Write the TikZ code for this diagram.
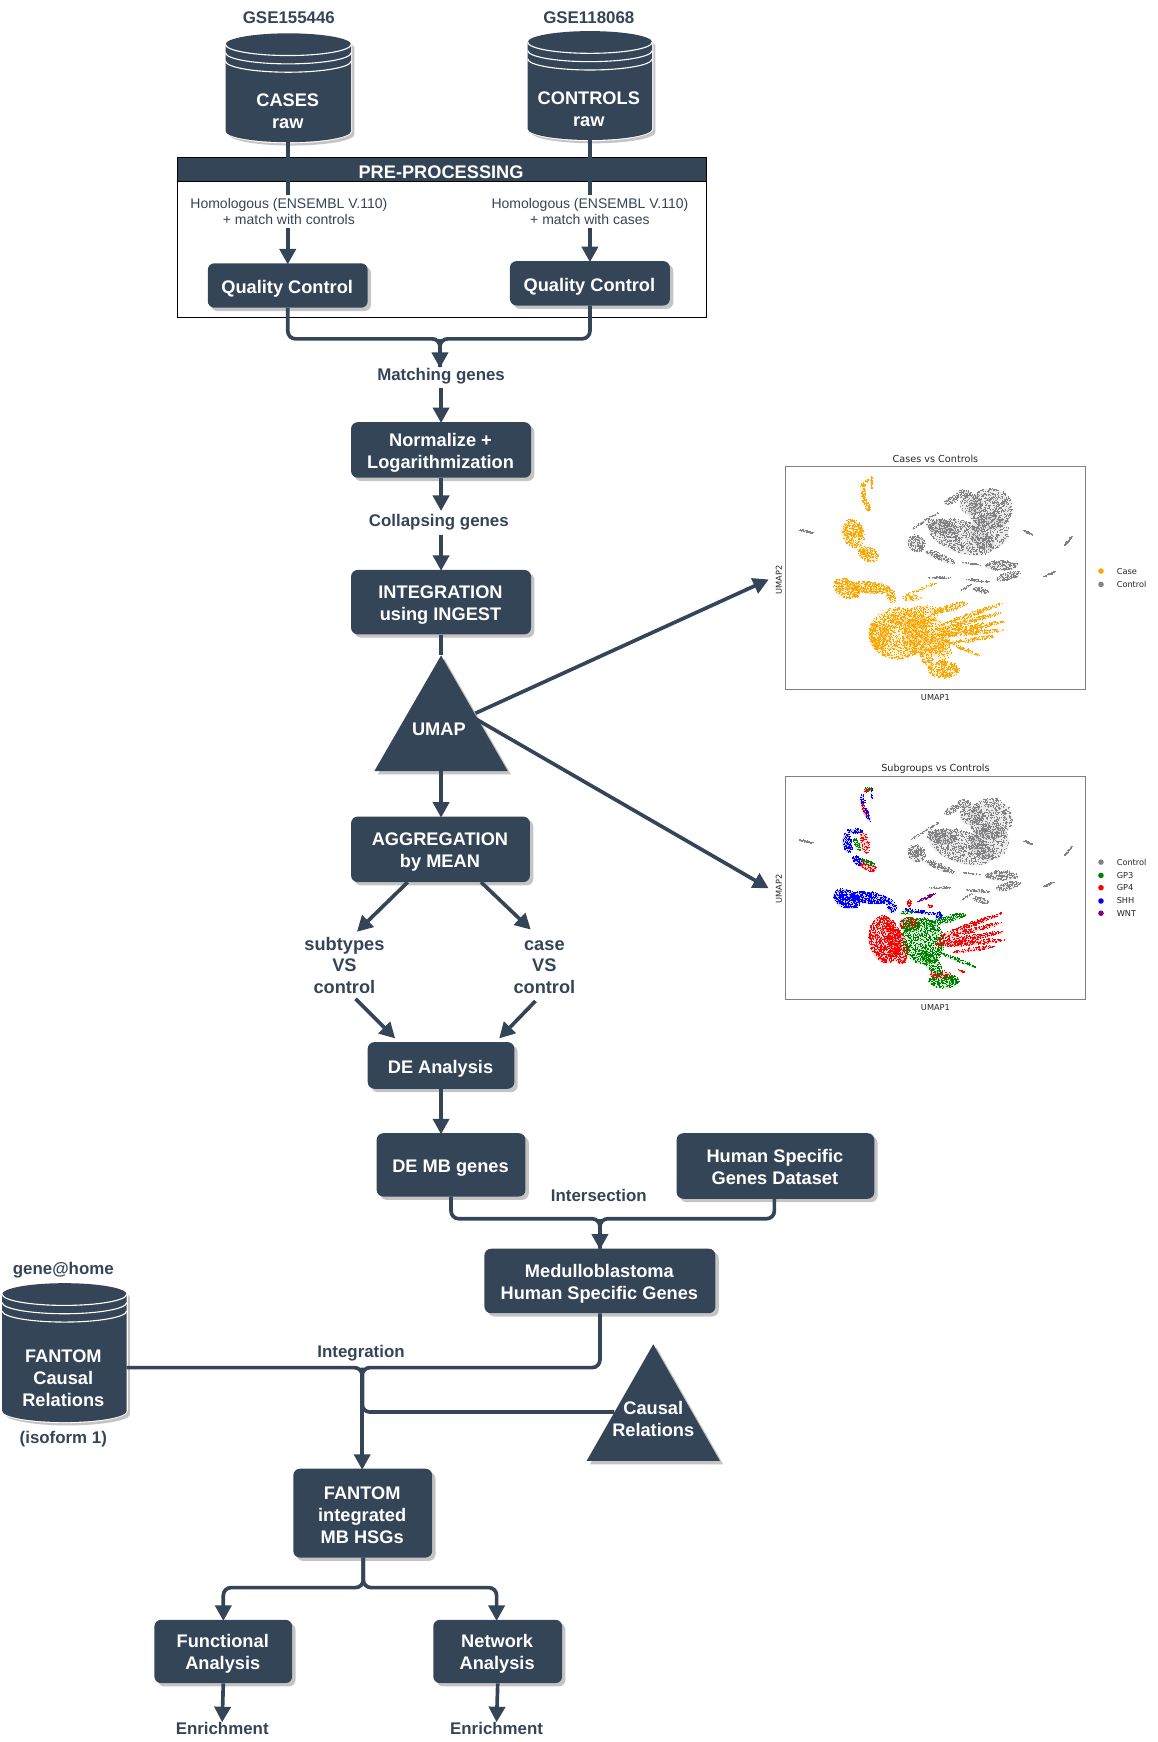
\documentclass[tikz,border=0pt]{standalone}
\usepackage{fontspec}
\setmainfont{Liberation Sans}
\newfontfamily\plotfont{DejaVu Sans}
\usetikzlibrary{arrows.meta}
\definecolor{dk}{HTML}{354558}
\definecolor{shd}{HTML}{C4C4C4}
\definecolor{axisc}{HTML}{808080}
\definecolor{caseC}{HTML}{FFA500}
\definecolor{ctrlC}{HTML}{828284}
\definecolor{gpthree}{HTML}{008000}
\definecolor{gpfour}{HTML}{FF0000}
\definecolor{shhC}{HTML}{0000FF}
\definecolor{wntC}{HTML}{800080}
\tikzset{
  x=1pt,y=-1pt,
  dkbox/.style={rectangle,rounded corners=6pt,fill=dk,inner sep=0pt},
  whitelab/.style={text=white,font=\fontsize{16.4}{19.8}\selectfont\bfseries,align=center,inner sep=0pt},
  dklab/.style={text=dk,font=\fontsize{15.2}{19.3}\selectfont\bfseries,align=center,inner sep=1pt},
  biglab/.style={dklab,font=\fontsize{16.4}{19.3}\selectfont\bfseries},
  homolab/.style={text=dk,fill=white,font=\fontsize{12.6}{15}\selectfont,align=center,inner xsep=1pt,inner ysep=2.5pt},
  plain conn/.style={draw=dk,line width=3.3pt},
  conn/.style={plain conn,-{Triangle[length=14pt,width=14.5pt]},shorten >=-1pt},
  rconn/.style={conn,rounded corners=7pt},
  rplain/.style={plain conn,rounded corners=7pt},
  plotframe/.style={draw=axisc,line width=1pt,inner sep=0pt,minimum width=270pt,minimum height=201pt},
  plottxt/.style={text=black!85,font=\plotfont\fontsize{7.4}{9}\selectfont,inner sep=0pt},
  plottitle/.style={plottxt,font=\plotfont\fontsize{8.7}{10}\selectfont},
  legtxt/.style={plottxt,anchor=west},
  legdot/.style={circle,inner sep=0pt,minimum size=5pt}
}
% box: [text offset] name x1 y1 x2 y2 text
\newcommand{\dkn}[7][2.7]{%
  \fill[shd] (#3+3,#4+3) [rounded corners=6pt] rectangle (#5+3,#6+3);
  \pgfmathsetmacro{\mycx}{(#3+#5)/2}\pgfmathsetmacro{\mycy}{(#4+#6)/2}
  \pgfmathsetmacro{\myw}{#5-#3}\pgfmathsetmacro{\myh}{#6-#4}
  \node[dkbox,minimum width=\myw pt,minimum height=\myh pt] (#2) at (\mycx,\mycy) {};
  \node[whitelab] (#2-t) at (\mycx-.5,\mycy+#1) {#7};}
% cylinder: name x1 y1 x2 y2
\newcommand{\cyln}[5]{%
  \pgfmathsetmacro{\myrx}{(#4-#2)/2}\pgfmathsetmacro{\mycx}{(#2+#4)/2}
  \fill[shd] (#2+3,#3+13) arc[start angle=180,end angle=360,x radius=\myrx,y radius=10]
     -- (#4+3,#5-7) arc[start angle=0,end angle=180,x radius=\myrx,y radius=10] -- cycle;
  \fill[white] (#2-1,#3+10) arc[start angle=180,end angle=360,x radius=\myrx+1,y radius=11]
     -- (#4+1,#5-10) arc[start angle=0,end angle=180,x radius=\myrx+1,y radius=11] -- cycle;
  \fill[dk] (#2,#3+10) arc[start angle=180,end angle=360,x radius=\myrx,y radius=10]
     -- (#4,#5-10) arc[start angle=0,end angle=180,x radius=\myrx,y radius=10] -- cycle;
  \foreach \myd in {10,17.5,25}{
    \draw[white,line width=1pt] (#2,#3+\myd) arc[start angle=180,end angle=0,x radius=\myrx,y radius=10];}
  \coordinate (#1-b) at (\mycx,#5);
  \coordinate (#1-r) at (#4,#3/2+#5/2);}
% random scatter, all arguments in zoomed plot pixels
\newcommand{\blob}[7]{%
  \begingroup
  \fill[#1,opacity=.16,shift={({.3*(#2-48)},{.3*(#3-80)})},rotate=-#6] (0,0) circle[x radius={.3*#4},y radius={.3*#5}];
  \color{#1}%
  \pgfmathsetmacro{\myca}{cos(#6)}\pgfmathsetmacro{\mysa}{sin(#6)}%
  \pgfmathtruncatemacro{\mynn}{#7*1.7}%
  \foreach \myi in {1,...,\mynn}{%
    \pgfmathsetmacro{\myr}{sqrt(rnd)}\pgfmathsetmacro{\myt}{360*rnd}%
    \pgfmathsetmacro{\myu}{#4*\myr*cos(\myt)}\pgfmathsetmacro{\myv}{#5*\myr*sin(\myt)}%
    \pgfmathsetmacro{\myX}{0.3*(#2-48+\myu*\myca-\myv*\mysa)}%
    \pgfmathsetmacro{\myY}{-0.3*(#3-80+\myu*\mysa+\myv*\myca)}%
    \pgfpathrectangle{\pgfpoint{\myX pt}{\myY pt}}{\pgfpoint{1pt}{1pt}}\pgfusepath{fill}}%
  \endgroup}
\newcommand{\ctrlblobs}{%
  \blob{ctrlC}{662}{208}{66}{62}{0}{340}
  \blob{ctrlC}{605}{195}{35}{32}{0}{70}
  \blob{ctrlC}{660}{275}{58}{55}{0}{170}
  \blob{ctrlC}{575}{292}{102}{48}{18}{430}
  \blob{ctrlC}{515}{262}{45}{22}{10}{90}
  \blob{ctrlC}{440}{312}{28}{24}{45}{100}
  \blob{ctrlC}{510}{352}{48}{10}{22}{70}
  \blob{ctrlC}{465}{245}{50}{4}{-32}{30}
  \blob{ctrlC}{545}{182}{25}{11}{-25}{35}
  \blob{ctrlC}{582}{163}{22}{13}{0}{35}
  \blob{ctrlC}{695}{378}{50}{15}{0}{100}
  \blob{ctrlC}{715}{410}{38}{12}{-15}{65}
  \blob{ctrlC}{605}{373}{32}{2}{8}{15}
  \blob{ctrlC}{512}{415}{36}{3}{0}{30}
  \blob{ctrlC}{625}{424}{36}{4}{5}{30}
  \blob{ctrlC}{632}{452}{26}{8}{15}{40}
  \blob{ctrlC}{590}{443}{22}{3}{-30}{12}
  \blob{ctrlC}{108}{276}{22}{3}{13}{35}
  \blob{ctrlC}{775}{280}{16}{3}{25}{25}
  \blob{ctrlC}{895}{305}{18}{3}{-50}{30}
  \blob{ctrlC}{838}{405}{20}{2.5}{-25}{25}}
\begin{document}
\begin{tikzpicture}
\useasboundingbox (0,0) rectangle (1042,1568);
% pre-processing frame
\node[draw=black,line width=1pt,minimum width=476pt,minimum height=144pt,inner sep=0pt] (prebox) at (398,214) {};
\node[fill=dk,draw=black,line width=.6pt,minimum width=476pt,minimum height=21pt,inner sep=0pt] (prehead) at (398,152.5) {};
\node[whitelab] (preheadt) at (397,155) {PRE-PROCESSING};
% top labels and cylinders
\node[dklab] (gse1) at (260,16) {GSE155446};
\node[dklab] (gse2) at (530,16) {GSE118068};
\cyln{cases}{203}{30}{316}{128}
\cyln{ctrls}{475}{28}{587}{126}
\node[whitelab] (casest) at (259,100) {CASES\\raw};
\node[whitelab] (ctrlst) at (530,98) {CONTROLS\\raw};
\node[homolab] (homo1) at (260,190.5) {Homologous (ENSEMBL V.110)\\+ match with controls};
\node[homolab] (homo2) at (531,190.5) {Homologous (ENSEMBL V.110)\\+ match with cases};
\dkn{qc1}{187}{237}{331}{277}{Quality Control}
\dkn{qc2}{459}{235}{603}{275}{Quality Control}
\node[dklab] (matching) at (397,338.5) {Matching genes};
\dkn{norm}{316}{380}{478}{430}{Normalize +\\Logarithmization}
\node[dklab] (collapse) at (395,470) {Collapsing genes};
\dkn{integ}{316}{513}{478}{571}{INTEGRATION\\using INGEST}
% UMAP triangle
\fill[shd] (400,593) -- (460,697) -- (340,697) -- cycle;
\fill[dk] (397,590) -- (457,694) -- (337,694) -- cycle;
\coordinate (umapt) at (397,590);
\coordinate (umapb) at (397,694);
\coordinate (umapr1) at (428,642);
\coordinate (umapr2) at (428,647);
\node[whitelab] (umap) at (395,656.5) {UMAP};
\dkn{aggr}{316}{735}{477}{794}{AGGREGATION\\by MEAN}
\node[biglab] (subt) at (310,869) {subtypes\\VS\\control};
\node[biglab] (casev) at (490,870.5) {case\\VS\\control};
\dkn{dea}{331}{938}{463}{980}{DE Analysis}
\dkn{demb}{339}{1020}{473}{1077}{DE MB genes}
\dkn[0.5]{human}{609}{1020}{787}{1079}{Human Specific\\Genes Dataset}
\node[dklab] (inters) at (539,1076) {Intersection};
\dkn{medu}{436}{1124}{644}{1182}{Medulloblastoma\\Human Specific Genes}
\node[dklab] (genehome) at (57,1143) {gene@home};
\cyln{fantomc}{2}{1155}{114}{1280}
\node[whitelab] (fantomt) at (57,1240.5) {FANTOM\\Causal\\Relations};
\node[dklab] (isoform) at (57,1295) {(isoform 1)};
\node[dklab] (integr) at (325,1218) {Integration};
% Causal triangle
\fill[shd] (591,1213) -- (651,1318) -- (531,1318) -- cycle;
\fill[dk] (588,1210) -- (648,1315) -- (528,1315) -- cycle;
\coordinate (causl) at (553,1271);
\node[whitelab] (causal) at (588,1277) {Causal\\Relations};
\dkn[1.5]{fint}{264}{1322}{389}{1402}{FANTOM\\integrated\\MB HSGs}
\dkn[2]{func}{139}{1458}{263}{1515}{Functional\\Analysis}
\dkn[2]{netw}{390}{1458}{506}{1515}{Network\\Analysis}
\node[dklab] (enr1) at (200,1556) {Enrichment};
\node[dklab] (enr2) at (447,1556) {Enrichment};
% connectors
\draw[plain conn] (cases-b) -- (homo1.north -| cases-b);
\draw[plain conn] (ctrls-b) -- (homo2.north -| ctrls-b);
\coordinate (qc1in) at (259,237);
\coordinate (qc2in) at (531,235);
\draw[conn] (homo1.south -| qc1in) -- (qc1in);
\draw[conn] (homo2.south -| qc2in) -- (qc2in);
\coordinate (mj) at (396,305);
\draw[rplain] (qc1.south) |- (mj) -- (matching.north -| mj);
\draw[rplain] (qc2.south) |- (mj) -- (matching.north -| mj);
\draw[conn] (mj) -- (matching.north -| mj);
\coordinate (nin) at (397,349);
\draw[conn] (nin) -- (norm.north);
\coordinate (colin) at (397,459);
\coordinate (colout) at (397,482);
\draw[conn] (norm.south) -- (colin);
\draw[conn] (colout) -- (integ.north);
\draw[plain conn] (integ.south) -- (umapt);
\coordinate (p1in) at (691,522);
\coordinate (p2in) at (691,799);
\draw[conn] (umapr1) -- (p1in);
\draw[conn] (umapr2) -- (p2in);
\coordinate (agin) at (397,735);
\draw[conn] (umapb) -- (agin);
\coordinate (a1) at (367,794); \coordinate (a2) at (433,794);
\coordinate (s1) at (322,838); \coordinate (s2) at (477,836);
\coordinate (s3) at (320,899); \coordinate (s4) at (482,901);
\coordinate (d1) at (355,934); \coordinate (d2) at (450,934);
\draw[conn] (a1) -- (s1);
\draw[conn] (a2) -- (s2);
\draw[conn] (s3) -- (d1);
\draw[conn] (s4) -- (d2);
\coordinate (dmin) at (397,1020);
\draw[conn] (dea.south) -- (dmin);
\coordinate (ij) at (540,1097);
\coordinate (ds) at (406,1077);
\coordinate (hs) at (697,1079);
\draw[rplain] (ds) |- (ij) -- (medu.north);
\draw[rplain] (hs) |- (ij) -- (medu.north);
\draw[conn] (ij) -- (medu.north);
\coordinate (fj) at (326,1231);
\coordinate (fin) at (326,1322);
\coordinate (fj2) at (326,1271);
\draw[rplain] (medu.south) |- (fj) -- (fj2);
\draw[rplain] (fantomc-r |- fj) -- (fj) -- (fj2);
\draw[rplain] (causl) -- (fj2) -- (fj);
\draw[conn] (fj) -- (fin);
\coordinate (fb) at (327,1402);
\coordinate (fj3) at (327,1429);
\coordinate (fu) at (201,1458);
\coordinate (ne) at (447,1458);
\draw[rconn] (fb) -- (fj3) -| (fu);
\draw[rconn] (fb) -- (fj3) -| (ne);
\draw[conn] (func.south) -- (enr1.north);
\draw[conn] (netw.south) -- (enr2.north);
% plot 1
\node[plotframe] (plot1) at (842,520.5) {};
\node[plottitle] (p1title) at (842,412.7) {Cases vs Controls};
\node[plottxt] (p1x) at (842,627.7) {UMAP1};
\node[plottxt,rotate=90] (p1y) at (701,522) {UMAP2};
\begin{scope}[shift={(707,420)}]
\pgfmathsetseed{4242}
\ctrlblobs
\blob{caseC}{306}{130}{3}{20}{0}{25}
\blob{caseC}{296}{122}{12}{5}{-20}{10}
\blob{caseC}{280}{150}{8}{22}{-5}{30}
\blob{caseC}{288}{192}{8}{28}{-25}{45}
\blob{caseC}{250}{282}{32}{46}{-15}{190}
\blob{caseC}{295}{345}{32}{21}{25}{110}
\blob{caseC}{230}{448}{42}{28}{25}{170}
\blob{caseC}{300}{445}{62}{18}{5}{180}
\blob{caseC}{365}{470}{14}{22}{-20}{35}
\blob{caseC}{385}{582}{88}{78}{0}{640}
\blob{caseC}{330}{590}{32}{45}{0}{120}
\blob{caseC}{470}{590}{70}{60}{0}{230}
\blob{caseC}{440}{530}{72}{30}{-10}{130}
\blob{caseC}{605}{525}{100}{7}{-20}{100}
\blob{caseC}{600}{545}{102}{7}{-15}{100}
\blob{caseC}{600}{565}{108}{8}{-10}{120}
\blob{caseC}{605}{580}{100}{8}{-5}{110}
\blob{caseC}{610}{600}{65}{6}{-8}{55}
\blob{caseC}{540}{505}{55}{10}{-15}{80}
\blob{caseC}{575}{625}{60}{5}{25}{50}
\blob{caseC}{505}{620}{50}{32}{50}{100}
\blob{caseC}{522}{690}{48}{26}{0}{180}
\blob{caseC}{470}{650}{35}{18}{70}{50}
\blob{caseC}{455}{448}{50}{4}{-22}{25}
\blob{caseC}{425}{475}{30}{10}{0}{25}
\end{scope}
\node[legdot,fill=caseC] (l1a) at (991,514) {};
\node[legdot,fill=ctrlC] (l1b) at (991,526) {};
\node[legtxt] (l1at) at (1005,514) {Case};
\node[legtxt] (l1bt) at (1005,526) {Control};
% plot 2
\node[plotframe] (plot2) at (842,799.5) {};
\node[plottitle] (p2title) at (842,691.7) {Subgroups vs Controls};
\node[plottxt] (p2x) at (842,906.7) {UMAP1};
\node[plottxt,rotate=90] (p2y) at (701,800) {UMAP2};
\begin{scope}[shift={(707,699)}]
\pgfmathsetseed{777}
\ctrlblobs
\blob{shhC}{306}{130}{3}{20}{0}{10}
\blob{gpfour}{292}{122}{12}{6}{-20}{12}
\blob{gpthree}{295}{118}{12}{5}{0}{10}
\blob{shhC}{278}{152}{7}{18}{-5}{18}
\blob{gpfour}{286}{185}{7}{26}{-28}{32}
\blob{shhC}{292}{195}{7}{24}{-28}{15}
\blob{shhC}{233}{280}{14}{30}{-10}{70}
\blob{shhC}{255}{245}{25}{8}{0}{30}
\blob{gpfour}{285}{280}{14}{32}{-10}{40}
\blob{gpthree}{262}{285}{8}{20}{-25}{35}
\blob{shhC}{265}{335}{20}{12}{40}{45}
\blob{gpfour}{295}{350}{28}{14}{25}{50}
\blob{gpthree}{295}{340}{22}{8}{25}{25}
\blob{shhC}{230}{448}{42}{28}{25}{200}
\blob{shhC}{300}{445}{62}{18}{5}{210}
\blob{shhC}{365}{470}{14}{22}{-20}{40}
\blob{shhC}{450}{487}{50}{5}{8}{50}
\blob{shhC}{507}{500}{12}{13}{-20}{25}
\blob{gpfour}{345}{570}{48}{72}{-8}{500}
\blob{gpfour}{385}{590}{28}{55}{-15}{170}
\blob{gpthree}{460}{575}{62}{72}{-20}{500}
\blob{gpthree}{420}{525}{32}{22}{0}{100}
\blob{gpfour}{415}{520}{28}{18}{0}{25}
\blob{gpfour}{605}{525}{100}{7}{-20}{100}
\blob{gpfour}{600}{545}{102}{7}{-15}{100}
\blob{gpfour}{600}{565}{108}{8}{-10}{120}
\blob{gpfour}{605}{580}{100}{8}{-5}{110}
\blob{gpfour}{610}{600}{65}{6}{-8}{55}
\blob{gpthree}{530}{510}{60}{11}{-15}{100}
\blob{gpthree}{565}{632}{60}{5}{22}{50}
\blob{gpfour}{575}{665}{12}{3}{25}{15}
\blob{gpthree}{522}{695}{45}{22}{0}{150}
\blob{gpfour}{510}{675}{32}{12}{0}{30}
\blob{gpthree}{485}{640}{45}{20}{50}{90}
\blob{wntC}{470}{445}{30}{4}{-25}{40}
\blob{gpfour}{418}{462}{8}{12}{0}{20}
\blob{gpthree}{410}{490}{22}{6}{0}{15}
\blob{gpfour}{480}{470}{8}{5}{0}{10}
\end{scope}
\foreach \myn/\myc/\myy/\myt in {a/ctrlC/776/Control,b/gpthree/788/GP3,c/gpfour/799/GP4,d/shhC/811/SHH,e/wntC/822/WNT}{
  \node[legdot,fill=\myc] (l2\myn) at (991,\myy) {};
  \node[legtxt] (l2\myn t) at (1005,\myy) {\myt};
}
\end{tikzpicture}
\end{document}
